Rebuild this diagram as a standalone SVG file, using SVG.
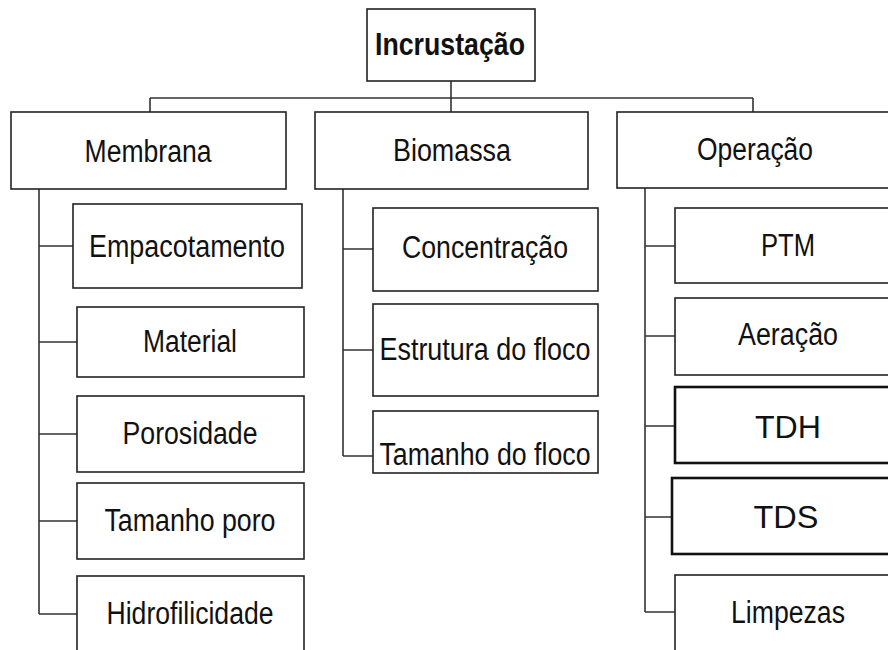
<svg xmlns="http://www.w3.org/2000/svg" width="888" height="650" viewBox="0 0 888 650">
<style>
rect{fill:#fff;stroke:#222;stroke-width:1.6}
rect.thick{stroke:#111;stroke-width:2.6}
text{font-family:"Liberation Sans",Arial,sans-serif;font-size:31px;fill:#111;text-anchor:middle}
text.b{font-weight:bold;font-size:32px}
text.w{font-size:32px}
#connectors path{fill:none;stroke:#333;stroke-width:1.6}
</style>
<rect x="0" y="0" width="888" height="650" style="fill:#fff;stroke:none"/>
<g id="connectors">
<path d="M451 81V112M150 98H753M150 98V112M753 98V112"/>
<path d="M39 189V614M39 246H73M39 342H77M39 434H77M39 521H77M39 614H77"/>
<path d="M343 189V456M343 249H373M343 350H373M343 456H373"/>
<path d="M645 188V612M645 246H675M645 336H675M645 426H675M645 517H672M645 612H675"/>
</g>
<g id="incrustacao"><rect x="367" y="9" width="168" height="72"/><text class="b" x="450" y="55" textLength="150" lengthAdjust="spacingAndGlyphs">Incrustação</text></g>
<g id="membrana"><rect x="11" y="112" width="275" height="77"/><text x="148" y="162" textLength="127" lengthAdjust="spacingAndGlyphs">Membrana</text></g>
<g id="biomassa"><rect x="315" y="112" width="273" height="77"/><text x="452" y="161" textLength="118" lengthAdjust="spacingAndGlyphs">Biomassa</text></g>
<g id="operacao"><rect x="617" y="112" width="290" height="76"/><text x="755" y="160" textLength="116" lengthAdjust="spacingAndGlyphs">Operação</text></g>
<g id="empacotamento"><rect x="73" y="204" width="229" height="84"/><text x="187" y="257" textLength="196" lengthAdjust="spacingAndGlyphs">Empacotamento</text></g>
<g id="material"><rect x="77" y="307" width="227" height="70"/><text x="190" y="352" textLength="94" lengthAdjust="spacingAndGlyphs">Material</text></g>
<g id="porosidade"><rect x="77" y="396" width="227" height="76"/><text x="190" y="444" textLength="135" lengthAdjust="spacingAndGlyphs">Porosidade</text></g>
<g id="tamanho-poro"><rect x="77" y="483" width="227" height="76"/><text x="190" y="531" textLength="171" lengthAdjust="spacingAndGlyphs">Tamanho poro</text></g>
<g id="hidrofilicidade"><rect x="77" y="576" width="227" height="90"/><text x="190" y="624" textLength="167" lengthAdjust="spacingAndGlyphs">Hidrofilicidade</text></g>
<g id="concentracao"><rect x="373" y="208" width="225" height="83"/><text x="485" y="258" textLength="166" lengthAdjust="spacingAndGlyphs">Concentração</text></g>
<g id="estrutura"><rect x="373" y="304" width="225" height="92"/><text x="485" y="360" textLength="211" lengthAdjust="spacingAndGlyphs">Estrutura do floco</text></g>
<g id="tamanho-floco"><rect x="373" y="411" width="225" height="62"/><text x="485" y="465" textLength="211" lengthAdjust="spacingAndGlyphs">Tamanho do floco</text></g>
<g id="ptm"><rect x="675" y="208" width="230" height="75"/><text x="788" y="256" textLength="54" lengthAdjust="spacingAndGlyphs">PTM</text></g>
<g id="aeracao"><rect x="675" y="298" width="230" height="77"/><text x="788" y="345" textLength="100" lengthAdjust="spacingAndGlyphs">Aeração</text></g>
<g id="tdh"><rect class="thick" x="675" y="387" width="230" height="76"/><text class="w" x="788" y="438" textLength="66" lengthAdjust="spacingAndGlyphs">TDH</text></g>
<g id="tds"><rect class="thick" x="672" y="478" width="233" height="76"/><text class="w" x="786" y="528" textLength="65" lengthAdjust="spacingAndGlyphs">TDS</text></g>
<g id="limpezas"><rect x="675" y="575" width="230" height="90"/><text x="788" y="623" textLength="114" lengthAdjust="spacingAndGlyphs">Limpezas</text></g>
</svg>
